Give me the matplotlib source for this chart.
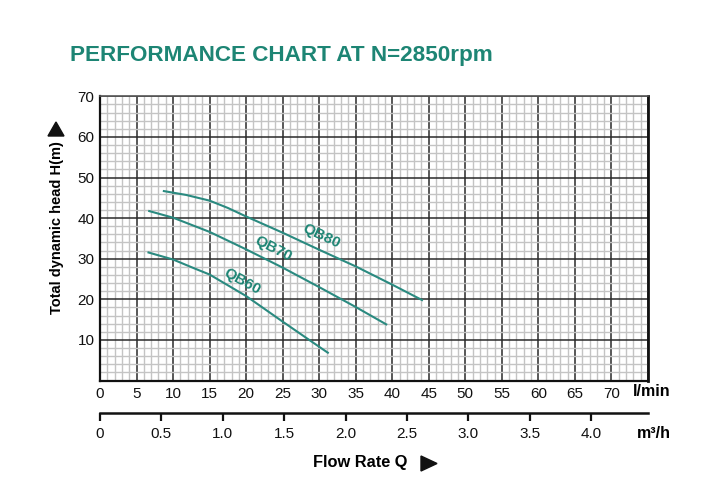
import numpy as np
import matplotlib
matplotlib.use("Agg")
import matplotlib.pyplot as plt
from matplotlib.patches import Polygon

plt.rcParams['font.family'] = ['Liberation Sans', 'DejaVu Sans']

# ---- data (flow l/min, head m) ----
qb80_q = [8.6, 11.8, 15, 17.5, 20, 25, 30, 35, 40, 44.2]
qb80_h = [46.7, 45.7, 44.3, 42.5, 40.4, 36.4, 32.2, 28.1, 23.6, 19.7]
qb70_q = [6.6, 10, 15, 20, 25, 30, 35, 39.3]
qb70_h = [41.8, 40.1, 36.6, 32.3, 27.8, 23.0, 18.1, 13.7]
qb60_q = [6.5, 10, 12.8, 15, 20, 25, 30, 31.3]
qb60_h = [31.6, 29.8, 27.7, 26.1, 20.8, 14.5, 8.3, 6.7]

series_names = ["QB80", "QB70", "QB60"]
label_pos = [(30.3, 35.6, -25), (23.7, 32.4, -27), (19.4, 24.5, -29)]

x_ticks = list(range(0, 71, 5))
y_ticks = list(range(10, 71, 10))
m3h_ticks = [0, 0.5, 1.0, 1.5, 2.0, 2.5, 3.0, 3.5, 4.0]
m3h_labels = ["0", "0.5", "1.0", "1.5", "2.0", "2.5", "3.0", "3.5", "4.0"]
LPM_PER_M3H = 16.8  # as drawn on the reference scale

TEAL = '#1d8574'
CURVE = '#2a8a80'

fig = plt.figure(figsize=(7.28, 5.0), dpi=100)
ax = fig.add_axes([100/728, 1-380.5/500, 548/728, 284.2/500])
ax.set_xlim(0, 75)
ax.set_ylim(0, 70)

ax.set_xticks(np.arange(0, 76, 1), minor=True)
ax.set_yticks(np.arange(0, 71, 2), minor=True)
ax.set_xticks(np.arange(0, 76, 5))
ax.set_xticklabels([str(v) if v in x_ticks else "" for v in range(0, 76, 5)])
ax.set_yticks(np.arange(0, 71, 10))
ax.set_yticklabels([str(v) if v in y_ticks else "" for v in range(0, 71, 10)])
ax.grid(which='minor', color='#c4c4c4', lw=1.0)
ax.grid(which='major', color='#2a2a2a', lw=1.1)
ax.set_axisbelow(True)
ax.tick_params(which='both', length=0)
ax.tick_params(axis='x', pad=5, labelsize=11, colors='#111')
ax.tick_params(axis='y', pad=4, labelsize=11, colors='#111')
for s in ['left', 'bottom']:
    ax.spines[s].set_linewidth(1.6)
    ax.spines[s].set_color('#111')
ax.spines['right'].set_linewidth(2.0)
ax.spines['right'].set_color('#111')
ax.spines['top'].set_linewidth(1.2)
ax.spines['top'].set_color('#555')

for q, h in [(qb80_q, qb80_h), (qb70_q, qb70_h), (qb60_q, qb60_h)]:
    ax.plot(q, h, color=CURVE, lw=1.5, solid_capstyle='butt', solid_joinstyle='round')

for name, (x, y, rot) in zip(series_names, label_pos):
    ax.text(x, y, name, color=TEAL, fontsize=11, fontweight='bold',
            rotation=rot, ha='center', va='center', rotation_mode='anchor')

sec = ax.secondary_xaxis(-0.1144, functions=(lambda v: v / LPM_PER_M3H,
                                              lambda v: v * LPM_PER_M3H))
sec.set_xticks(m3h_ticks)
sec.set_xticklabels(m3h_labels)
sec.tick_params(direction='out', length=6, width=1.6, pad=4, labelsize=11, colors='#111')
sec.spines['bottom'].set_linewidth(1.8)
sec.spines['bottom'].set_color('#111')

fig.text(70/728, 1-55/500, "PERFORMANCE CHART AT N=2850rpm", color=TEAL,
         fontsize=16.2, fontweight='bold', ha='left', va='center')
fig.text(633/728, 1-392/500, "l/min", fontsize=11.5, fontweight='bold', ha='left', va='center')
fig.text(637/728, 1-433/500, "m³/h", fontsize=11.5, fontweight='bold', ha='left', va='center')
fig.text(313/728, 1-463/500, "Flow Rate Q", fontsize=11.8, fontweight='bold', ha='left', va='center')
fig.text(57/728, 1-228/500, "Total dynamic head H(m)", fontsize=10.5, fontweight='bold',
         rotation=90, ha='center', va='center')

def px(x, y):
    return (x/728, 1-y/500)

fig.add_artist(Polygon([px(421, 456), px(421, 471), px(437, 463.5)], closed=True,
                       transform=fig.transFigure, color='#111'))
fig.add_artist(Polygon([px(48, 136), px(64, 136), px(56, 122)], closed=True,
                       transform=fig.transFigure, color='#111'))

fig.savefig("out.png", dpi=100)
